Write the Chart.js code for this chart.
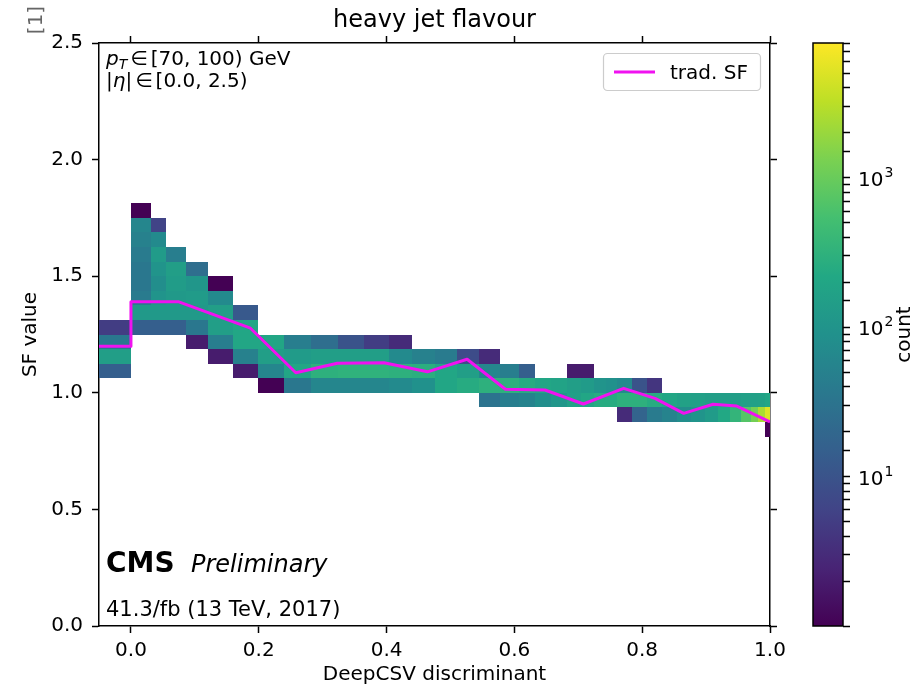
<!DOCTYPE html>
<html>
<head>
<meta charset="utf-8">
<script src="https://cdn.jsdelivr.net/npm/chart.js@4.4.1/dist/chart.umd.min.js"></script>
<style>
  html, body { margin: 0; padding: 0; background: #fff; }
  #wrap { position: relative; width: 922px; height: 690px; }
</style>
</head>
<body>
<div id="wrap"><canvas id="chart" width="922" height="690"></canvas></div>
<script>
/* ── heavy jet flavour: SF value vs DeepCSV, 2D histogram + trad. SF ── */

// x bin edges (DeepCSV discriminant), variable width
var xEdges = [-0.05, 0.0, 0.031, 0.055, 0.086, 0.120, 0.159, 0.199, 0.240, 0.281,
  0.324, 0.365, 0.404, 0.440, 0.475, 0.510, 0.544, 0.577, 0.607, 0.633,
  0.658, 0.683, 0.704, 0.725, 0.743, 0.761, 0.784, 0.807, 0.831, 0.855,
  0.877, 0.898, 0.918, 0.937, 0.955, 0.970, 0.982, 0.992, 1.0];

// y bin edges (SF value), rows listed bottom to top
var yEdges = [0.8125, 0.875, 0.9375, 1.0, 1.0625, 1.125, 1.1875, 1.25, 1.3125,
  1.375, 1.4375, 1.5, 1.5625, 1.625, 1.6875, 1.75, 1.8125];

// first x bin of each row, then counts along the row (0 = empty)
var rowStart = [37, 25, 16, 7, 0, 0, 0, 0, 1, 1, 1, 1, 1, 1, 1, 1];
var rowCounts = [
  [1],
  [3, 18, 40, 55, 80, 100, 130, 220, 350, 700, 1200, 2500, 5000],
  [30, 45, 55, 80, 110, 160, 200, 250, 250, 300, 300, 250, 200, 170, 160, 150, 150, 150, 160, 160, 170, 200],
  [1, 35, 60, 60, 60, 70, 90, 200, 250, 300, 300, 250, 200, 180, 150, 130, 100, 90, 70, 10, 4],
  [15, 0, 0, 0, 0, 0, 2, 60, 200, 300, 320, 320, 300, 280, 200, 150, 60, 45, 15, 0, 0, 2, 2],
  [150, 0, 0, 0, 0, 2, 50, 150, 130, 150, 150, 150, 70, 50, 40, 8, 3],
  [35, 0, 0, 0, 2, 45, 200, 200, 45, 25, 10, 5, 3],
  [5, 15, 15, 15, 35, 150, 200],
  [120, 120, 120, 120, 150, 12],
  [40, 100, 120, 130, 70],
  [35, 80, 140, 110, 1],
  [35, 100, 150, 25],
  [40, 130, 45],
  [50, 70],
  [60, 6],
  [1]
];

// traditional scale factor curve
var sfX = [-0.05, 0.0, 0.0, 0.075, 0.187, 0.258, 0.323, 0.396, 0.464, 0.526,
  0.586, 0.648, 0.708, 0.771, 0.820, 0.865, 0.911, 0.948, 1.0];
var sfY = [1.20, 1.20, 1.39, 1.39, 1.277, 1.086, 1.127, 1.129, 1.090, 1.144,
  1.015, 1.012, 0.952, 1.019, 0.976, 0.912, 0.951, 0.943, 0.875];

// axis ticks
var xTicks = [0.0, 0.2, 0.4, 0.6, 0.8, 1.0];
var yTicks = [0.0, 0.5, 1.0, 1.5, 2.0, 2.5];
var cbDecades = [1, 2, 3];
var countMin = 1, countMax = 8000;

/* ── viridis colour map ── */
var viridisStops = ['#440154', '#482475', '#414487', '#355f8d', '#2a788e', '#21918c',
  '#22a884', '#44bf70', '#7ad151', '#bddf26', '#fde725'];

function hexRgb(h) {
  return [parseInt(h.substr(1, 2), 16), parseInt(h.substr(3, 2), 16), parseInt(h.substr(5, 2), 16)];
}

function viridis(t) {
  t = Math.max(0, Math.min(1, t));
  var n = viridisStops.length - 1;
  var i = Math.min(Math.floor(t * n), n - 1);
  var f = t * n - i;
  var a = hexRgb(viridisStops[i]), b = hexRgb(viridisStops[i + 1]);
  return 'rgb(' + [0, 1, 2].map(function(k) { return Math.round(a[k] + (b[k] - a[k]) * f); }).join(',') + ')';
}

function logNorm(c) {
  return Math.log(c / countMin) / Math.log(countMax / countMin);
}

var FONT = '"DejaVu Sans", sans-serif';

/* ── Heatmap cells, drawn through the x / y scales ── */
var heatmapPlugin = {
  id: 'heatmap',
  beforeDatasetsDraw: function(chart) {
    var ctx = chart.ctx, a = chart.chartArea;
    var xs = chart.scales.x, ys = chart.scales.y;
    ctx.save();
    ctx.beginPath();
    ctx.rect(a.left, a.top, a.right - a.left, a.bottom - a.top);
    ctx.clip();
    rowCounts.forEach(function(counts, r) {
      var yb = Math.round(ys.getPixelForValue(yEdges[r]));
      var yt = Math.round(ys.getPixelForValue(yEdges[r + 1]));
      counts.forEach(function(c, i) {
        if (!c) return;
        var col = rowStart[r] + i;
        var xl = Math.round(xs.getPixelForValue(xEdges[col]));
        var xr = Math.round(xs.getPixelForValue(xEdges[col + 1]));
        ctx.fillStyle = viridis(logNorm(c));
        ctx.fillRect(xl, yt, xr - xl, yb - yt);
      });
    });
    ctx.restore();
  }
};

/* ── Colour bar, legend and annotations ── */
var overlayPlugin = {
  id: 'overlay',
  afterDraw: function(chart) {
    var ctx = chart.ctx, a = chart.chartArea;
    var cb = chart.scales.cb;
    ctx.save();

    // colour bar
    var cbw = 30, cbx = cb.left - cbw;
    var g = ctx.createLinearGradient(0, cb.bottom, 0, cb.top);
    viridisStops.forEach(function(c, i) { g.addColorStop(i / (viridisStops.length - 1), c); });
    ctx.fillStyle = g;
    ctx.fillRect(cbx, cb.top, cbw, cb.bottom - cb.top);
    ctx.strokeStyle = '#000';
    ctx.lineWidth = 1.5;
    ctx.strokeRect(cbx, cb.top, cbw, cb.bottom - cb.top);

    // colour bar decade labels (10^n with a real superscript)
    ctx.fillStyle = '#000';
    ctx.textAlign = 'left';
    ctx.textBaseline = 'alphabetic';
    cbDecades.forEach(function(p) {
      var yy = cb.getPixelForValue(Math.pow(10, p));
      var lx = cb.left + 15;
      ctx.font = '20px ' + FONT;
      ctx.fillText('10', lx, yy + 8);
      var w = ctx.measureText('10').width;
      ctx.font = '14px ' + FONT;
      ctx.fillText(String(p), lx + w + 1, yy - 1);
    });

    // colour bar label
    ctx.font = '20px ' + FONT;
    ctx.textAlign = 'center';
    ctx.textBaseline = 'middle';
    ctx.save();
    ctx.translate(905, (cb.top + cb.bottom) / 2);
    ctx.rotate(-Math.PI / 2);
    ctx.fillText('count', 0, 0);
    ctx.restore();

    // leftover unit label at the top left
    ctx.save();
    ctx.fillStyle = '#666';
    ctx.translate(37, 20);
    ctx.rotate(-Math.PI / 2);
    ctx.fillText('[1]', 0, 0);
    ctx.restore();

    // kinematic selection
    ctx.textAlign = 'left';
    ctx.textBaseline = 'alphabetic';
    var x0 = a.left + 7, x;
    ctx.font = 'italic 20px ' + FONT;
    ctx.fillText('p', x0, 65);
    x = x0 + ctx.measureText('p').width;
    ctx.font = 'italic 14px ' + FONT;
    ctx.fillText('T', x, 69);
    x += ctx.measureText('T').width + 3;
    ctx.font = '20px ' + FONT;
    ctx.fillText('\u2208', x, 65);
    x += ctx.measureText('\u2208').width + 3;
    ctx.fillText('[70, 100) GeV', x, 65);

    ctx.fillText('|', x0, 87);
    x = x0 + ctx.measureText('|').width;
    ctx.font = 'italic 20px ' + FONT;
    ctx.fillText('\u03b7', x, 87);
    x += ctx.measureText('\u03b7').width;
    ctx.font = '20px ' + FONT;
    ctx.fillText('|', x, 87);
    x += ctx.measureText('|').width + 3;
    ctx.fillText('\u2208', x, 87);
    x += ctx.measureText('\u2208').width + 3;
    ctx.fillText('[0.0, 2.5)', x, 87);

    // CMS label
    ctx.font = 'bold 28px ' + FONT;
    ctx.fillText('CMS', x0, 572);
    ctx.font = 'italic 24px ' + FONT;
    ctx.fillText('Preliminary', 191, 572);
    ctx.font = '21px ' + FONT;
    ctx.fillText('41.3/fb (13 TeV, 2017)', x0, 616);

    // legend
    ctx.fillStyle = 'rgba(255,255,255,0.8)';
    ctx.strokeStyle = '#cccccc';
    ctx.lineWidth = 1.2;
    ctx.beginPath();
    ctx.roundRect(603.5, 53.5, 157, 37, 4);
    ctx.fill();
    ctx.stroke();
    var ds = chart.data.datasets[0];
    ctx.strokeStyle = ds.borderColor;
    ctx.lineWidth = ds.borderWidth;
    ctx.beginPath();
    ctx.moveTo(614, 72);
    ctx.lineTo(655, 72);
    ctx.stroke();
    ctx.fillStyle = '#000';
    ctx.font = '20px ' + FONT;
    ctx.fillText(ds.label, 670, 79);

    ctx.restore();
  }
};

function setTicks(values) {
  return function(scale) {
    scale.ticks = values.map(function(v) { return { value: v }; });
  };
}

var tickGrid = { drawOnChartArea: false, drawTicks: true, tickLength: 7, color: '#000', tickWidth: 1.5 };
var frame = { display: true, color: '#000', width: 1.5 };

Chart.defaults.font.family = FONT;
Chart.defaults.color = '#000';

new Chart(document.getElementById('chart'), {
  type: 'line',
  data: {
    datasets: [{
      label: 'trad. SF',
      data: sfX.map(function(v, i) { return { x: v, y: sfY[i] }; }),
      borderColor: '#f012f0',
      borderWidth: 3,
      borderJoinStyle: 'round',
      pointRadius: 0,
      tension: 0,
      fill: false
    }]
  },
  options: {
    responsive: false,
    animation: false,
    devicePixelRatio: 1,
    layout: { padding: 0 },
    plugins: {
      legend: { display: false },
      tooltip: { enabled: false },
      title: {
        display: true,
        text: 'heavy jet flavour',
        fullSize: false,
        font: { size: 24, weight: 'normal', lineHeight: 1.2 },
        color: '#000',
        padding: { top: 6, bottom: 2.2 }
      }
    },
    scales: {
      x: {
        type: 'linear', position: 'bottom', min: -0.05, max: 1.0,
        afterBuildTicks: setTicks(xTicks),
        afterFit: function(s) { s.height = 64; },
        ticks: { font: { size: 20 }, padding: 6, maxRotation: 0,
          callback: function(v) { return v.toFixed(1); } },
        grid: tickGrid, border: frame,
        title: { display: true, text: 'DeepCSV discriminant', font: { size: 20 },
          padding: { top: 0, bottom: 3 } }
      },
      xTop: {
        type: 'linear', position: 'top', min: -0.05, max: 1.0,
        afterBuildTicks: setTicks(xTicks),
        afterFit: function(s) { s.height = 6; },
        ticks: { display: false },
        grid: tickGrid, border: frame
      },
      y: {
        type: 'linear', position: 'left', min: 0, max: 2.5,
        afterBuildTicks: setTicks(yTicks),
        afterFit: function(s) { s.width = 99; },
        ticks: { font: { size: 20 }, padding: 9,
          callback: function(v) { return v.toFixed(1); } },
        grid: tickGrid, border: frame,
        title: { display: true, text: 'SF value', font: { size: 20 },
          padding: { top: 19, bottom: 0 } }
      },
      yR: {
        type: 'linear', position: 'right', min: 0, max: 2.5, weight: 0,
        afterBuildTicks: setTicks(yTicks),
        afterFit: function(s) { s.width = 73; },
        ticks: { display: false },
        grid: tickGrid, border: frame
      },
      cb: {
        type: 'logarithmic', position: 'right', min: countMin, max: countMax, weight: 1,
        afterFit: function(s) { s.width = 79; },
        ticks: { font: { size: 20 }, padding: 8, autoSkip: false,
          callback: function() { return ''; } },
        grid: tickGrid,
        border: { display: false }
      }
    }
  },
  plugins: [heatmapPlugin, overlayPlugin]
});
</script>
</body>
</html>
